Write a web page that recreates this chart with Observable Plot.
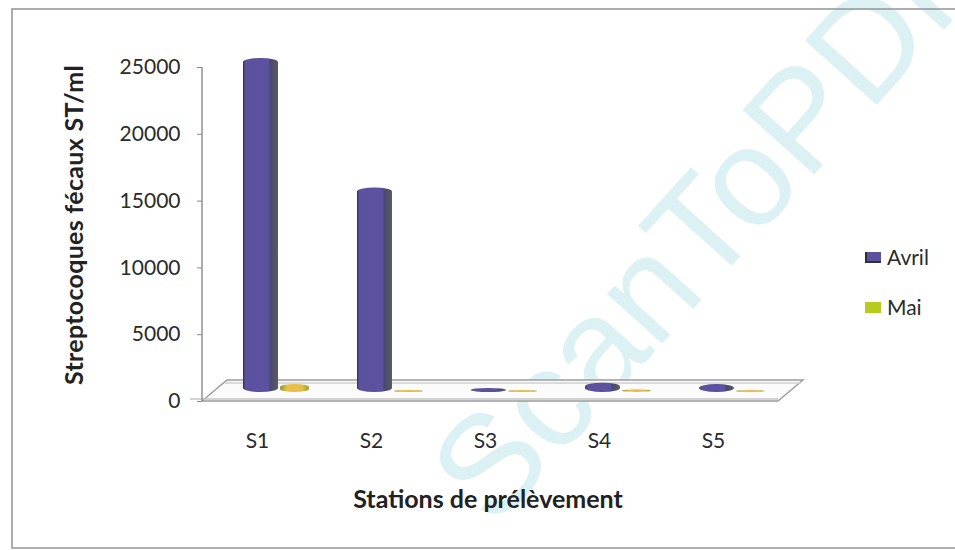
<!DOCTYPE html>
<html>
<head>
<meta charset="utf-8">
<script src="https://cdn.jsdelivr.net/npm/d3@7"></script>
<script src="https://cdn.jsdelivr.net/npm/@observablehq/plot@0.6"></script>
<style>
  html, body { margin: 0; padding: 0; background: #fff; }
  #chart { position: relative; width: 955px; height: 550px; overflow: hidden; }
  #chart svg { display: block; }
</style>
</head>
<body>
<div id="chart"></div>
<script>
// Streptocoques fécaux par station de prélèvement (avril / mai)
const stations = ["S1", "S2", "S3", "S4", "S5"];
const seriesNames = ["Avril", "Mai"];
const avril = [25000, 15300, 300, 700, 600];
const mai = [600, 150, 150, 200, 150];
const yTicks = [0, 5000, 10000, 15000, 20000, 25000];
const yTitle = "Streptocoques fécaux ST/ml";
const xTitle = "Stations de prélèvement";
const watermark = "ScanToPDF";

const seriesColors = {Avril: "#5b519f", Mai: "#b7cb1f"};

const rows = stations.flatMap((s, i) => [
  {station: s, serie: "Avril", value: avril[i]},
  {station: s, serie: "Mai", value: mai[i]}
]);

const FONT = "Lato, 'Open Sans', sans-serif";
const depth = 9; // vertical lift of the bars onto the 3D floor

const chart = Plot.plot({
  width: 955,
  height: 550,
  marginLeft: 198,
  marginRight: 183,
  marginTop: 67,
  marginBottom: 149,
  style: {fontFamily: FONT, fontSize: "21px", color: "#2b2b2b", background: "transparent", overflow: "visible"},
  x: {domain: stations, padding: 0, axis: null},
  y: {domain: [0, 25000], axis: null},
  marks: [
    Plot.axisY({ticks: yTicks, tickSize: 5, tickPadding: 17, label: null, stroke: "#8a8a8a", dx: 4, tickFormat: d => String(d)}),
    Plot.axisX({tickSize: 0, tickPadding: 32, label: null}),
    Plot.barY(rows.filter(d => d.serie === "Avril"), {
      x: "station", y: "value", fill: "url(#gradAvril)",
      insetLeft: 43, insetRight: 36, dy: -depth, rx: 17, ry: 4
    }),
    Plot.barY(rows.filter(d => d.serie === "Mai"), {
      x: "station", y: "value", fill: "url(#gradMai)",
      insetLeft: 80, insetRight: 5, dy: -depth, rx: 15, ry: 3
    })
  ]
});

document.getElementById("chart").appendChild(chart);

const svg = d3.select(chart);
const xs = chart.scale("x");
const ys = chart.scale("y");
const y0 = ys.apply(0);
const [xl, xr] = xs.range;
const yTop = ys.apply(25000);

// gradients giving the cylinders their shading
const defs = svg.insert("defs", ":first-child");
const ga = defs.append("linearGradient").attr("id", "gradAvril").attr("x1", 0).attr("x2", 1).attr("y1", 0).attr("y2", 0);
[[0, "#34344a"], [0.07, "#5b519f"], [0.72, "#5c52a1"], [0.78, "#4b4870"], [1, "#5b5b63"]]
  .forEach(([o, c]) => ga.append("stop").attr("offset", o).attr("stop-color", c));
const gm = defs.append("linearGradient").attr("id", "gradMai").attr("x1", 0).attr("x2", 1).attr("y1", 0).attr("y2", 0);
[[0, "#8a9a3a"], [0.25, "#e8c04a"], [0.75, "#e6bd48"], [1, "#9aa63a"]]
  .forEach(([o, c]) => gm.append("stop").attr("offset", o).attr("stop-color", c));

// watermark and outer frame behind everything
const back = svg.insert("g", "defs + *");
back.append("text")
  .attr("transform", "translate(494,530) rotate(-48)")
  .attr("text-anchor", "start")
  .attr("font-family", "'Liberation Sans', Arial, sans-serif")
  .attr("font-size", 140)
  .attr("fill", "#dcf1f4")
  .text(watermark);
back.append("rect")
  .attr("x", 12).attr("y", 9).attr("width", 980).attr("height", 539)
  .attr("fill", "none").attr("stroke", "#9a9a9a").attr("stroke-width", 1.6);

// 3D floor and value axis line, drawn under the bars
const floor = svg.insert("g", "g[aria-label='bar']")
  .attr("fill", "none").attr("stroke", "#9c9c9c").attr("stroke-width", 1.4);
const fx0 = xl + 4, fx1 = xr + 6, off = 25, rise = 21;
floor.append("path")
  .attr("fill", "#fbfbfb")
  .attr("d", `M${fx0},${y0} L${fx0 + off},${y0 - rise} L${fx1 + off},${y0 - rise} L${fx1},${y0} Z`);
floor.append("line").attr("x1", fx0 + off - 2).attr("x2", fx1 + off - 2).attr("y1", y0 - rise + 3).attr("y2", y0 - rise + 3).attr("stroke", "#cfcfcf");
floor.append("line").attr("x1", xl - 8).attr("x2", fx1).attr("y1", y0 - 2).attr("y2", y0 - 2).attr("stroke", "#c4c4c4");
floor.append("line").attr("x1", xl + 4).attr("x2", xl + 4).attr("y1", y0).attr("y2", yTop).attr("stroke", "#8a8a8a");

// axis titles
svg.append("text")
  .attr("transform", `translate(73,${(y0 + yTop) / 2 - 9}) rotate(-90)`)
  .attr("text-anchor", "middle").attr("dominant-baseline", "central")
  .attr("font-family", FONT).attr("font-size", 25).attr("font-weight", "bold").attr("fill", "#222")
  .attr("letter-spacing", 0.3)
  .text(yTitle);
svg.append("text")
  .attr("x", (xl + xr) / 2 + 3).attr("y", 508)
  .attr("text-anchor", "middle")
  .attr("font-family", FONT).attr("font-size", 25).attr("font-weight", "bold").attr("fill", "#222")
  .text(xTitle);

// legend
const legend = svg.append("g").attr("font-family", FONT).attr("font-size", 21).attr("fill", "#2b2b2b").attr("text-anchor", "start");
seriesNames.forEach((name, i) => {
  const gy = 252 + i * 50;
  legend.append("rect").attr("x", 865).attr("y", gy).attr("width", 16).attr("height", 11).attr("fill", seriesColors[name]);
  if (name === "Avril") {
    legend.append("rect").attr("x", 865).attr("y", gy + 9).attr("width", 16).attr("height", 2).attr("fill", "#2f2f3a");
    legend.append("rect").attr("x", 865).attr("y", gy).attr("width", 2).attr("height", 11).attr("fill", "#2f2f3a");
  }
  legend.append("text").attr("x", 887).attr("y", gy + 13).text(name);
});
</script>
</body>
</html>
